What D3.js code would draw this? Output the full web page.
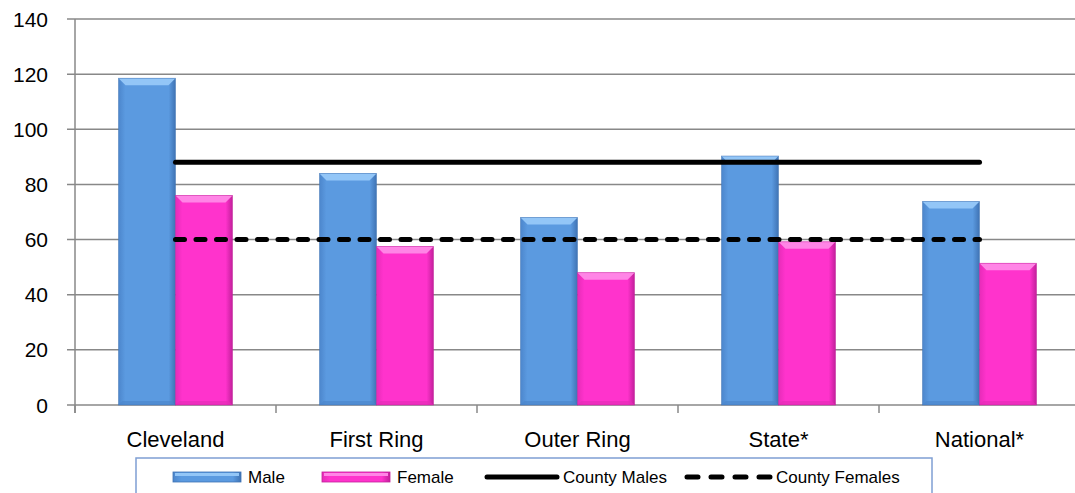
<!DOCTYPE html>
<html>
<head>
<meta charset="utf-8">
<script src="https://cdn.jsdelivr.net/npm/d3@7"></script>
<style>
html,body{margin:0;padding:0;background:#fff;}
svg{display:block;font-family:"Liberation Sans",Arial,sans-serif;}
</style>
</head>
<body>
<svg id="chart" width="1075" height="493"></svg>
<script>
const categories = ["Cleveland", "First Ring", "Outer Ring", "State*", "National*"];
const seriesNames = ["Male", "Female"];
const maleValues = [118.5, 84, 68, 90.3, 73.8];
const femaleValues = [76, 57.5, 48, 59.2, 51.4];
const countyMales = 88;
const countyFemales = 60;
const yTicks = [0, 20, 40, 60, 80, 100, 120, 140];
const legendLabels = ["Male", "Female", "County Males", "County Females"];

(function () {
const svg = d3.select("#chart");
const plotLeft = 75, plotRight = 1080, plotTop = 19, plotBottom = 405;

const y = d3.scaleLinear().domain([0, 140]).range([plotBottom, plotTop]);
const x = d3.scaleBand().domain(categories).range([plotLeft, plotRight]).padding(0);
const x1 = d3.scaleBand().domain(seriesNames).range([0, x.bandwidth()]).paddingInner(0).paddingOuter(0.763);

const colors = {
  Male: {main: "#5b9ae0", light: "#93c6f7", dark: "#3f73b4", side: "#4c86cc"},
  Female: {main: "#ff33cc", light: "#ff85e6", dark: "#c21f9b", side: "#e62cb8"}
};

const defs = svg.append("defs");
seriesNames.forEach(s => {
  const g = defs.append("linearGradient").attr("id", "grad-" + s).attr("x1", 0).attr("x2", 1).attr("y1", 0).attr("y2", 0);
  g.append("stop").attr("offset", "0%").attr("stop-color", colors[s].side);
  g.append("stop").attr("offset", "12%").attr("stop-color", colors[s].main);
  g.append("stop").attr("offset", "88%").attr("stop-color", colors[s].main);
  g.append("stop").attr("offset", "100%").attr("stop-color", colors[s].dark);
});

// gridlines
svg.append("g").selectAll("line").data(yTicks).join("line")
  .attr("x1", plotLeft - 8).attr("x2", 1075)
  .attr("y1", d => y(d)).attr("y2", d => y(d))
  .attr("stroke", "#888").attr("stroke-width", 1.5);

// y axis line
svg.append("line").attr("x1", plotLeft).attr("x2", plotLeft).attr("y1", plotTop).attr("y2", plotBottom + 8)
  .attr("stroke", "#888").attr("stroke-width", 1.5);

// x tick marks at band boundaries
const boundaries = categories.map(c => x(c)).concat([plotRight]);
svg.append("g").selectAll("line").data(boundaries).join("line")
  .attr("x1", d => d).attr("x2", d => d).attr("y1", plotBottom).attr("y2", plotBottom + 8)
  .attr("stroke", "#888").attr("stroke-width", 1.5);

// y labels
svg.append("g").selectAll("text").data(yTicks).join("text")
  .attr("x", 48).attr("y", d => y(d)).attr("dy", "0.36em")
  .attr("text-anchor", "end").attr("font-size", 21).attr("fill", "#000")
  .text(d => d);

// bars
const data = [];
categories.forEach((c, i) => {
  data.push({cat: c, s: "Male", v: maleValues[i]});
  data.push({cat: c, s: "Female", v: femaleValues[i]});
});
const bars = svg.append("g").selectAll("g").data(data).join("g");
bars.each(function(d) {
  const g = d3.select(this);
  const bx = x(d.cat) + x1(d.s), bw = x1.bandwidth();
  const by = y(d.v), bh = y(0) - y(d.v);
  const b = 7;
  g.append("rect").attr("x", bx).attr("y", by).attr("width", bw).attr("height", bh)
    .attr("fill", "url(#grad-" + d.s + ")");
  g.append("polygon").attr("points", [[bx, by], [bx + bw, by], [bx + bw - b, by + b], [bx + b, by + b]].map(p => p.join(",")).join(" "))
    .attr("fill", colors[d.s].light);
  g.append("polygon").attr("points", [[bx, by + bh], [bx + bw, by + bh], [bx + bw - 4, by + bh - 4], [bx + 4, by + bh - 4]].map(p => p.join(",")).join(" "))
    .attr("fill", colors[d.s].side).attr("opacity", 0.7);
  g.append("rect").attr("x", bx).attr("y", by).attr("width", bw).attr("height", bh)
    .attr("fill", "none").attr("stroke", colors[d.s].dark).attr("stroke-width", 0.8).attr("stroke-opacity", 0.6);
});

// county lines
const xStart = x(categories[0]) + x.bandwidth() / 2;
const xEnd = x(categories[categories.length - 1]) + x.bandwidth() / 2;
svg.append("line").attr("x1", xStart).attr("x2", xEnd).attr("y1", y(countyMales)).attr("y2", y(countyMales))
  .attr("stroke", "#000").attr("stroke-width", 5).attr("stroke-linecap", "round");
svg.append("line").attr("x1", xStart).attr("x2", xEnd).attr("y1", y(countyFemales)).attr("y2", y(countyFemales))
  .attr("stroke", "#000").attr("stroke-width", 5).attr("stroke-linecap", "round")
  .attr("stroke-dasharray", "9,11.5");

// category labels
svg.append("g").selectAll("text").data(categories).join("text")
  .attr("x", d => x(d) + x.bandwidth() / 2).attr("y", 447)
  .attr("text-anchor", "middle").attr("font-size", 22).attr("fill", "#000")
  .text(d => d);

// legend
const lg = svg.append("g");
lg.append("rect").attr("x", 136).attr("y", 458).attr("width", 796).attr("height", 60)
  .attr("fill", "#fff").attr("stroke", "#7f9fd3").attr("stroke-width", 1.5);
const legendItems = [
  {label: legendLabels[0], type: "bar", s: "Male", x: 173, len: 68},
  {label: legendLabels[1], type: "bar", s: "Female", x: 322, len: 68},
  {label: legendLabels[2], type: "line", x: 487, len: 70},
  {label: legendLabels[3], type: "dash", x: 687, len: 83}
];
const ly = 477;
legendItems.forEach(it => {
  if (it.type === "bar") {
    lg.append("rect").attr("x", it.x).attr("y", ly - 5).attr("width", it.len).attr("height", 10)
      .attr("fill", "url(#grad-" + it.s + ")").attr("stroke", colors[it.s].dark).attr("stroke-width", 0.8);
    lg.append("rect").attr("x", it.x + 2).attr("y", ly - 4).attr("width", it.len - 4).attr("height", 3)
      .attr("fill", colors[it.s].light);
  } else {
    lg.append("line").attr("x1", it.x).attr("x2", it.x + it.len).attr("y1", ly).attr("y2", ly)
      .attr("stroke", "#000").attr("stroke-width", 5).attr("stroke-linecap", "round")
      .attr("stroke-dasharray", it.type === "dash" ? "11,13" : null);
  }
  lg.append("text").attr("x", it.x + it.len + (it.type === "bar" ? 7 : 6)).attr("y", ly).attr("dy", "0.35em")
    .attr("font-size", 17).attr("fill", "#000").text(it.label);
});
})();
</script>
</body>
</html>
